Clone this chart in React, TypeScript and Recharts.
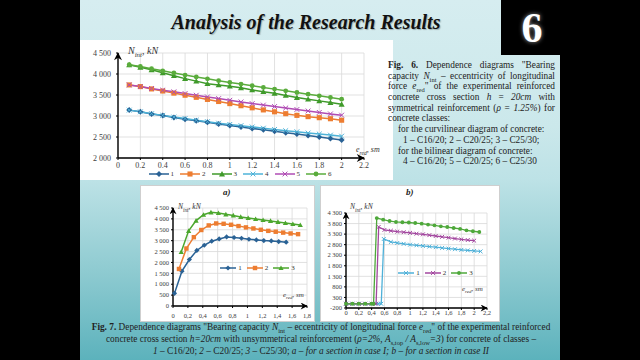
import React from 'react';
import { LineChart, Line, XAxis, YAxis, CartesianGrid, Legend } from 'recharts';

const SERIF = '"Liberation Serif", "Times New Roman", serif';

// Fig. 6 - symmetrical reinforcement, series 1-3 curvilinear, 4-6 bilinear
const TOP_X = [0.1, 0.2, 0.3, 0.4, 0.5, 0.6, 0.7, 0.8, 0.9, 1.0, 1.1, 1.2, 1.3, 1.4, 1.5, 1.6, 1.7, 1.8, 1.9, 2.0];
const TOP_1 = [3140, 3100, 3050, 3010, 2965, 2925, 2885, 2850, 2810, 2775, 2740, 2705, 2670, 2635, 2600, 2570, 2535, 2500, 2465, 2430];
const TOP_2 = [3740, 3700, 3645, 3595, 3545, 3495, 3445, 3395, 3345, 3295, 3245, 3195, 3145, 3100, 3055, 3015, 2985, 2960, 2935, 2900];
const TOP_3 = [4220, 4160, 4100, 4030, 3960, 3890, 3830, 3770, 3740, 3710, 3670, 3620, 3580, 3540, 3490, 3440, 3400, 3360, 3320, 3280];
const TOP_4 = [3140, 3100, 3055, 3015, 2975, 2940, 2900, 2865, 2830, 2800, 2770, 2740, 2710, 2680, 2650, 2625, 2595, 2570, 2545, 2520];
const TOP_5 = [3740, 3700, 3655, 3615, 3575, 3535, 3495, 3455, 3415, 3375, 3335, 3295, 3260, 3225, 3190, 3155, 3120, 3085, 3050, 3020];
const TOP_6 = [4220, 4180, 4125, 4075, 4025, 3975, 3930, 3885, 3840, 3800, 3760, 3720, 3680, 3640, 3600, 3560, 3520, 3480, 3440, 3400];
const TOP_X_TICKS = [0, 0.2, 0.4, 0.6, 0.8, 1, 1.2, 1.4, 1.6, 1.8, 2, 2.2];
const TOP_Y_TICKS = [2000, 2500, 3000, 3500, 4000, 4500];

// Fig. 7a - case I
const A_X1 = [0.02, 0.12, 0.22, 0.32, 0.42, 0.52, 0.62, 0.72, 0.82, 0.92, 1.02, 1.12, 1.22, 1.32, 1.42, 1.52];
const A_Y1 = [580, 1600, 2135, 2550, 2790, 2975, 3080, 3170, 3145, 3110, 3065, 3035, 3005, 2990, 2960, 2930];
const A_X2 = [0.08, 0.18, 0.28, 0.38, 0.48, 0.58, 0.68, 0.78, 0.88, 0.98, 1.08, 1.18, 1.28, 1.38, 1.48, 1.58, 1.68];
const A_Y2 = [1700, 2640, 3160, 3490, 3700, 3790, 3775, 3730, 3670, 3610, 3560, 3500, 3450, 3410, 3370, 3330, 3300];
const A_X3 = [0.11, 0.21, 0.31, 0.41, 0.51, 0.61, 0.71, 0.81, 0.91, 1.01, 1.11, 1.21, 1.31, 1.41, 1.51, 1.61, 1.71];
const A_Y3 = [2480, 3450, 3920, 4190, 4300, 4270, 4210, 4160, 4090, 4040, 3995, 3950, 3905, 3860, 3810, 3765, 3720];
const A_X_TICKS = [0, 0.2, 0.4, 0.6, 0.8, 1, 1.2, 1.4, 1.6, 1.8];
const A_Y_TICKS = [0, 500, 1000, 1500, 2000, 2500, 3000, 3500, 4000, 4500];

// Fig. 7b - case II
const B_X1 = [0, 0.1, 0.2, 0.3, 0.4, 0.5, 0.55, 0.59, 0.7, 0.8, 0.9, 1.0, 1.1, 1.2, 1.3, 1.4, 1.5, 1.6, 1.7, 1.8, 1.9, 2.0, 2.1];
const B_Y1 = [0, 0, 0, 0, 0, 0, 0, 3070, 2930, 2880, 2840, 2800, 2770, 2740, 2710, 2680, 2645, 2615, 2585, 2555, 2530, 2505, 2480];
const B_X2 = [0, 0.1, 0.2, 0.3, 0.4, 0.47, 0.51, 0.6, 0.7, 0.8, 0.9, 1.0, 1.1, 1.2, 1.3, 1.4, 1.5, 1.6, 1.7, 1.8, 1.9, 2.0];
const B_Y2 = [0, 0, 0, 0, 0, 0, 3640, 3500, 3460, 3420, 3390, 3360, 3320, 3290, 3250, 3210, 3170, 3130, 3090, 3050, 3020, 2990];
const B_X3 = [0, 0.1, 0.2, 0.3, 0.4, 0.43, 0.48, 0.58, 0.68, 0.78, 0.88, 0.98, 1.08, 1.18, 1.28, 1.38, 1.48, 1.58, 1.68, 1.78, 1.88, 1.98, 2.08];
const B_Y3 = [0, 0, 0, 0, 0, 0, 4060, 3985, 3920, 3875, 3860, 3850, 3825, 3795, 3750, 3715, 3670, 3635, 3590, 3545, 3480, 3435, 3400];
const B_X_TICKS = [0, 0.2, 0.4, 0.6, 0.8, 1, 1.2, 1.4, 1.6, 1.8, 2, 2.2];
const B_Y_TICKS = [-200, 300, 800, 1300, 1800, 2300, 2800, 3300, 3800, 4300];

type Shape = 'diamond' | 'square' | 'triangle' | 'cross' | 'circle';

interface Series {
  label: string;
  xs: number[];
  ys: number[];
  color: string;
  shape: Shape;
}

const zip = (xs: number[], ys: number[]) => xs.map((x, i) => ({ x, y: ys[i] }));

const fmtThousands = (v: number) => {
  const a = Math.abs(v);
  if (a < 1000) return String(v);
  const s = String(a);
  return (v < 0 ? '-' : '') + s.slice(0, s.length - 3) + ' ' + s.slice(-3);
};
const fmtDot = (v: number) => String(v);
const fmtComma = (v: number) => String(v).replace('.', ',');

// plain svg text ticks, so "4 500" is never wrapped onto two lines
const tickText = (fmt: (v: number) => string, font: number, anchor: 'end' | 'middle', dy: string) => (props: any) => (
  <text x={props.x} y={props.y} dy={dy} textAnchor={anchor} fontSize={font} fill="#404040" fontFamily={SERIF}>
    {fmt(props.payload.value)}
  </text>
);

const Mark = ({ cx, cy, shape, color, r }: { cx?: number; cy?: number; shape: Shape; color: string; r: number }) => {
  if (cx == null || cy == null) return null;
  switch (shape) {
    case 'diamond':
      return <path d={`M${cx},${cy - r}L${cx + r},${cy}L${cx},${cy + r}L${cx - r},${cy}Z`} fill={color} />;
    case 'square':
      return <rect x={cx - r * 0.85} y={cy - r * 0.85} width={r * 1.7} height={r * 1.7} fill={color} />;
    case 'triangle':
      return <path d={`M${cx},${cy - r}L${cx + r},${cy + r * 0.8}L${cx - r},${cy + r * 0.8}Z`} fill={color} />;
    case 'cross':
      return (
        <path
          d={`M${cx - r * 0.8},${cy - r * 0.8}L${cx + r * 0.8},${cy + r * 0.8}M${cx - r * 0.8},${cy + r * 0.8}L${cx + r * 0.8},${cy - r * 0.8}`}
          stroke={color}
          strokeWidth={1}
          fill="none"
        />
      );
    default:
      return <circle cx={cx} cy={cy} r={r * 0.8} fill={color} />;
  }
};

const LegendRow = ({ series, iconW, gap, font, r }: { series: Series[]; iconW: number; gap: number; font: number; r: number }) => (
  <div style={{ display: 'flex', justifyContent: 'center', alignItems: 'center', fontFamily: SERIF, fontSize: font, color: '#333', lineHeight: 1 }}>
    {series.map((s) => (
      <span key={s.label} style={{ display: 'flex', alignItems: 'center', marginRight: gap }}>
        <svg width={iconW} height={8}>
          <line x1={0} y1={4} x2={iconW} y2={4} stroke={s.color} strokeWidth={1.5} />
          <Mark cx={iconW / 2} cy={4} shape={s.shape} color={s.color} r={r} />
        </svg>
        <span style={{ marginLeft: 2 }}>{s.label}</span>
      </span>
    ))}
  </div>
);

interface PanelProps {
  width: number;
  height: number;
  margin: { top: number; right: number; bottom: number; left: number };
  xDomain: [number, number];
  xTicks: number[];
  xFmt: (v: number) => string;
  yDomain: [number, number];
  yTicks: number[];
  yAxisW: number;
  xAxisH: number;
  font: number;
  xTickMargin: number;
  yTickMargin: number;
  series: Series[];
  markR: number;
  strokeW: number;
  arrow: string;
  legendStyle: React.CSSProperties;
  legendIconW: number;
  legendGap: number;
  legendFont: number;
}

const Panel = (p: PanelProps) => (
  <LineChart width={p.width} height={p.height} margin={p.margin}>
    <CartesianGrid stroke="#d9d9d9" strokeWidth={0.8} />
    <XAxis
      type="number"
      dataKey="x"
      domain={p.xDomain}
      ticks={p.xTicks}
      interval={0}
      height={p.xAxisH}
      tick={tickText(p.xFmt, p.font, 'middle', '0.71em')}
      tickSize={2}
      tickMargin={p.xTickMargin}
      axisLine={{ stroke: '#000', strokeWidth: 1.4, markerEnd: `url(#${p.arrow})` }}
      tickLine={{ stroke: '#000' }}
    />
    <YAxis
      type="number"
      domain={p.yDomain}
      ticks={p.yTicks}
      interval={0}
      width={p.yAxisW}
      tick={tickText(fmtThousands, p.font, 'end', '0.35em')}
      tickSize={2}
      tickMargin={p.yTickMargin}
      axisLine={{ stroke: '#000', strokeWidth: 1.4, markerStart: `url(#${p.arrow})` }}
      tickLine={{ stroke: '#000' }}
    />
    <Legend
      layout="horizontal"
      verticalAlign="middle"
      align="center"
      wrapperStyle={p.legendStyle}
      content={() => <LegendRow series={p.series} iconW={p.legendIconW} gap={p.legendGap} font={p.legendFont} r={p.markR} />}
    />
    {p.series.map((s) => (
      <Line
        key={s.label}
        data={zip(s.xs, s.ys)}
        dataKey="y"
        type="linear"
        stroke={s.color}
        strokeWidth={p.strokeW}
        isAnimationActive={false}
        activeDot={false}
        dot={(d: any) => <Mark key={`${s.label}-${d.index}`} cx={d.cx} cy={d.cy} shape={s.shape} color={s.color} r={p.markR} />}
      />
    ))}
  </LineChart>
);

const TOP_SERIES: Series[] = [
  { label: '1', xs: TOP_X, ys: TOP_1, color: '#2a6295', shape: 'diamond' },
  { label: '2', xs: TOP_X, ys: TOP_2, color: '#ed7d31', shape: 'square' },
  { label: '3', xs: TOP_X, ys: TOP_3, color: '#3f9a2a', shape: 'triangle' },
  { label: '4', xs: TOP_X, ys: TOP_4, color: '#4eb3d8', shape: 'cross' },
  { label: '5', xs: TOP_X, ys: TOP_5, color: '#b04cb4', shape: 'cross' },
  { label: '6', xs: TOP_X, ys: TOP_6, color: '#5aac3c', shape: 'circle' },
];

const A_SERIES: Series[] = [
  { label: '1', xs: A_X1, ys: A_Y1, color: '#2a6295', shape: 'diamond' },
  { label: '2', xs: A_X2, ys: A_Y2, color: '#ed7d31', shape: 'square' },
  { label: '3', xs: A_X3, ys: A_Y3, color: '#4ca72e', shape: 'triangle' },
];

const B_SERIES: Series[] = [
  { label: '1', xs: B_X1, ys: B_Y1, color: '#4eb0d8', shape: 'cross' },
  { label: '2', xs: B_X2, ys: B_Y2, color: '#a3479f', shape: 'cross' },
  { label: '3', xs: B_X3, ys: B_Y3, color: '#4ea83a', shape: 'circle' },
];

const abs = (left: number, top: number, extra: React.CSSProperties = {}): React.CSSProperties => ({
  position: 'absolute',
  left,
  top,
  ...extra,
});

const sub: React.CSSProperties = { fontSize: '0.7em', verticalAlign: 'sub', lineHeight: 0 };

const Sym = ({ s, i }: { s: string; i: string }) => (
  <>
    <i>{s}</i>
    <span style={sub}>{i}</span>
  </>
);

const AxisLabel = ({ left, top, size, sym, idx, unit }: { left: number; top: number; size: number; sym: string; idx: string; unit: string }) => (
  <div style={abs(left, top, { fontFamily: SERIF, fontStyle: 'italic', fontSize: size, color: '#333', whiteSpace: 'nowrap', lineHeight: 1 })}>
    {sym}
    <span style={sub}>{idx}</span>, {unit}
  </div>
);

// a justified caption line: words spread across the full width
const JustLine = ({ words }: { words: React.ReactNode[] }) => (
  <div style={{ display: 'flex', justifyContent: 'space-between', height: 10.7, whiteSpace: 'nowrap' }}>
    {words.map((w, i) => (
      <span key={i}>{w}</span>
    ))}
  </div>
);

export default function App() {
  return (
    <div style={{ position: 'fixed', left: 0, top: 0, width: 640, height: 360, background: '#000', overflow: 'hidden', fontFamily: SERIF }}>
      <svg width={0} height={0} style={{ position: 'absolute' }}>
        <defs>
          <marker id="arrowTop" viewBox="0 0 10 10" refX={9} refY={5} markerUnits="userSpaceOnUse" markerWidth={9} markerHeight={8} orient="auto-start-reverse">
            <path d="M0,0 L10,5 L0,10 L3,5 z" fill="#000" />
          </marker>
          <marker id="arrowSmall" viewBox="0 0 10 10" refX={9} refY={5} markerUnits="userSpaceOnUse" markerWidth={8} markerHeight={7} orient="auto-start-reverse">
            <path d="M0,0 L10,5 L0,10 L3,5 z" fill="#000" />
          </marker>
        </defs>
      </svg>

      {/* slide background */}
      <div
        style={abs(80, 0, {
          width: 480,
          height: 360,
          background: 'linear-gradient(to bottom, #d6edf0 0%, #cbe8eb 35%, #bde2e6 50%, #8fcbd1 75%, #5cb2bc 100%)',
        })}
      />
      <div style={abs(501, 0, { width: 60, height: 55, background: '#000' })} />

      <div style={abs(0, 12, { width: 612, textAlign: 'center', fontSize: 20, lineHeight: '20px', fontWeight: 'bold', fontStyle: 'italic', color: '#111', textShadow: '1px 1px 1px rgba(0,0,0,0.25)' })}>
        Analysis of the Research Results
      </div>
      <div style={abs(501, 7, { width: 62, textAlign: 'center', fontSize: 42, lineHeight: '42px', fontWeight: 'bold', color: '#fff', textShadow: '0 0 4px rgba(200,200,200,0.8)' })}>
        6
      </div>

      {/* Fig. 6 chart */}
      <div style={abs(80, 40, { width: 313, height: 140, background: '#fff' })}>
        <Panel
          width={313}
          height={140}
          margin={{ top: 13, right: 29, bottom: 0, left: 0 }}
          xDomain={[0, 2.2]}
          xTicks={TOP_X_TICKS}
          xFmt={fmtDot}
          yDomain={[2000, 4500]}
          yTicks={TOP_Y_TICKS}
          yAxisW={38}
          xAxisH={22}
          font={8}
          xTickMargin={2}
          yTickMargin={5}
          series={TOP_SERIES}
          markR={3}
          strokeW={1.5}
          arrow="arrowTop"
          legendStyle={{ top: 130, left: 40, width: 246, height: 9 }}
          legendIconW={20}
          legendGap={6}
          legendFont={7}
        />
        <AxisLabel left={48} top={6} size={10} sym="N" idx="int" unit="kN" />
        <AxisLabel left={276} top={106} size={8} sym="e" idx="red" unit="sm" />
      </div>

      {/* Fig. 6 caption */}
      <div style={abs(388, 60, { width: 167, fontSize: 9.3, lineHeight: '10.7px', color: '#222' })}>
        <JustLine words={[<b>Fig.</b>, <b>6.</b>, 'Dependence', 'diagrams', '"Bearing']} />
        <JustLine words={['capacity', <Sym s="N" i="int" />, '–', 'eccentricity', 'of', 'longitudinal']} />
        <JustLine words={['force', <><Sym s="e" i="red" />"</>, 'of', 'the', 'experimental', 'reinforced']} />
        <JustLine words={['concrete', 'cross', 'section', <i>h</i>, '=', <i>20cm</i>, 'with']} />
        <JustLine words={['symmetrical', 'reinforcement', <>(<i>ρ</i></>, '=', <><i>1.25%</i>)</>, 'for']} />
        <div style={{ height: 10.7 }}>concrete classes:</div>
        <div style={{ height: 10.7, paddingLeft: 10 }}>for the curvilinear diagram of concrete:</div>
        <div style={{ height: 10.7, paddingLeft: 15 }}>1 – C16/20; 2 – C20/25; 3 – C25/30;</div>
        <div style={{ height: 10.7, paddingLeft: 10 }}>for the bilinear diagram of concrete:</div>
        <div style={{ height: 10.7, paddingLeft: 15 }}>4 – C16/20; 5 – C20/25; 6 – C25/30</div>
      </div>

      {/* Fig. 7a */}
      <div style={abs(140, 185, { width: 175, height: 137, background: '#fff', boxSizing: 'border-box', border: '1px solid #cfcfcf' })}>
        <div style={abs(0, 0)}>
          <Panel
            width={173}
            height={135}
            margin={{ top: 22, right: 7, bottom: 0, left: 0 }}
            xDomain={[0, 1.8]}
            xTicks={A_X_TICKS}
            xFmt={fmtComma}
            yDomain={[0, 4500]}
            yTicks={A_Y_TICKS}
            yAxisW={32}
            xAxisH={15}
            font={6.5}
            xTickMargin={5}
            yTickMargin={2}
            series={A_SERIES}
            markR={2.6}
            strokeW={1.5}
            arrow="arrowSmall"
            legendStyle={{ top: 78, left: 78, width: 82, height: 10 }}
            legendIconW={16}
            legendGap={5}
            legendFont={7}
          />
        </div>
        <div style={abs(82, 1, { fontSize: 9, fontWeight: 'bold', fontStyle: 'italic', color: '#222' })}>a)</div>
        <AxisLabel left={37} top={17} size={7.5} sym="N" idx="int" unit="kN" />
        <AxisLabel left={142} top={106} size={7} sym="e" idx="red" unit="sm" />
      </div>

      {/* Fig. 7b */}
      <div style={abs(320, 185, { width: 180, height: 137, background: '#fff', boxSizing: 'border-box', border: '1px solid #cfcfcf' })}>
        <div style={abs(0, 0)}>
          <Panel
            width={178}
            height={135}
            margin={{ top: 27, right: 12, bottom: 0, left: 0 }}
            xDomain={[0, 2.2]}
            xTicks={B_X_TICKS}
            xFmt={fmtComma}
            yDomain={[-200, 4300]}
            yTicks={B_Y_TICKS}
            yAxisW={25}
            xAxisH={13}
            font={6.5}
            xTickMargin={0}
            yTickMargin={2}
            series={B_SERIES}
            markR={2.4}
            strokeW={1.3}
            arrow="arrowSmall"
            legendStyle={{ top: 83, left: 76, width: 82, height: 10 }}
            legendIconW={16}
            legendGap={5}
            legendFont={7}
          />
        </div>
        <div style={abs(85, 1, { fontSize: 9, fontWeight: 'bold', fontStyle: 'italic', color: '#222' })}>b)</div>
        <AxisLabel left={29} top={17} size={7.5} sym="N" idx="int" unit="kN" />
        <AxisLabel left={141} top={100} size={7} sym="e" idx="red" unit="sm" />
      </div>

      {/* Fig. 7 caption */}
      <div style={abs(80, 321, { width: 482, textAlign: 'center', fontSize: 9.3, lineHeight: '12px', color: '#222', whiteSpace: 'nowrap' })}>
        <div>
          <b>Fig. 7.</b> Dependence diagrams "Bearing capacity <Sym s="N" i="int" /> – eccentricity of longitudinal force <Sym s="e" i="red" />" of the
          experimental reinforced
        </div>
        <div>
          concrete cross section <i>h=20cm</i> with unsymmetrical reinforcement (<i>ρ=2%, </i>
          <Sym s="A" i="s,top" />
          <i> / </i>
          <Sym s="A" i="s,low" />
          <i>=3</i>) for concrete of classes –
        </div>
        <div>
          <i>1</i> – C16/20; <i>2</i> – C20/25; <i>3</i> – C25/30; <i>a – for a section in case I; b – for a section in case II</i>
        </div>
      </div>
    </div>
  );
}
